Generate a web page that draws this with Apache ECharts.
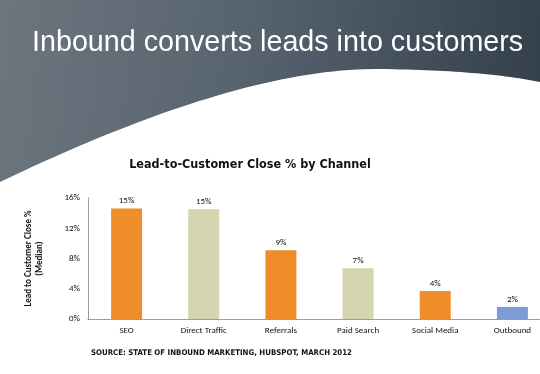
<!DOCTYPE html>
<html><head><meta charset="utf-8">
<script src="https://cdn.jsdelivr.net/npm/echarts@6/dist/echarts.min.js"></script>
<style>html,body{margin:0;padding:0;background:#fff}#c{width:540px;height:374px}</style>
</head><body><div id="c"></div>
<script>
const categories = ['SEO', 'Direct Traffic', 'Referrals', 'Paid Search', 'Social Media', 'Outbound'];
const values = [14.6, 14.5, 9.1, 6.7, 3.7, 1.6];
const yMin = 0, yMax = 16, yStep = 4;
const headline = 'Inbound converts leads into customers';
const chartTitle = 'Lead-to-Customer Close % by Channel';
const yName = 'Lead to Customer Close %\n(Median)';
const sourceNote = 'SOURCE: STATE OF INBOUND MARKETING, HUBSPOT, MARCH 2012';
const barPalette = ['#EF8D2B', '#D5D5B1', '#EF8D2B', '#D5D5B1', '#EF8D2B', '#7F9BD5'];

// decorative header band outline (cubic bezier segments)
function bez(p0, p1, p2, p3, n) {
  const pts = [];
  for (let i = 0; i <= n; i++) {
    const t = i / n, u = 1 - t;
    pts.push([
      u*u*u*p0[0] + 3*u*u*t*p1[0] + 3*u*t*t*p2[0] + t*t*t*p3[0],
      u*u*u*p0[1] + 3*u*u*t*p1[1] + 3*u*t*t*p2[1] + t*t*t*p3[1]
    ]);
  }
  return pts;
}
const bandPts = [[0, 0], [540, 0]]
  .concat(bez([540, 82], [500, 74], [450, 70], [380, 69], 30))
  .concat(bez([380, 69], [280, 68], [150, 110], [0, 182], 40));

const smallFont = 'Carlito, Lato, sans-serif';
const chart = echarts.init(document.getElementById('c'), null, {renderer: 'canvas'});
chart.setOption({
  animation: false,
  backgroundColor: '#fff',
  graphic: [
    {type: 'polygon', z: -10, silent: true,
     shape: {points: bandPts},
     style: {fill: {type: 'linear', x: 0, y: 0, x2: 1, y2: 0.35,
       colorStops: [{offset: 0, color: '#6c767f'}, {offset: 0.45, color: '#57636e'}, {offset: 1, color: '#34404b'}]}}},
    {type: 'text', left: 32, top: 29, z: 10, silent: true,
     style: {text: headline, fill: '#fff', font: '28.7px "Liberation Sans", Arial, sans-serif'}},
    {type: 'text', left: 91, top: 349, z: 10, silent: true,
     style: {text: sourceNote, fill: '#111', font: 'bold 7.8px "DejaVu Sans Condensed", sans-serif'}}
  ],
  title: {text: chartTitle, left: 245, textAlign: 'center', top: 153,
    textStyle: {fontSize: 12.5, fontWeight: 'bold', color: '#111', fontFamily: '"DejaVu Sans Condensed", sans-serif'}},
  grid: {left: 88, top: 198, width: 463, bottom: 55, containLabel: false, outerBoundsMode: 'none'},
  xAxis: {type: 'category', data: categories,
    axisLine: {lineStyle: {color: '#888', type: 'dotted', width: 1}},
    axisTick: {show: false},
    axisLabel: {color: '#111', fontSize: 9, fontFamily: smallFont, margin: 7}},
  yAxis: {type: 'value', min: yMin, max: yMax, interval: yStep,
    name: yName, nameLocation: 'middle', nameGap: 43, nameRotate: 90,
    nameTextStyle: {fontSize: 9, fontWeight: 'bold', color: '#111', fontFamily: smallFont, lineHeight: 11},
    axisLine: {show: true, lineStyle: {color: '#888', type: 'dotted', width: 1}},
    axisTick: {show: false}, splitLine: {show: false},
    axisLabel: {formatter: v => v + '%', color: '#111', fontSize: 9, fontFamily: smallFont, margin: 8}},
  series: [{type: 'bar', data: values, barWidth: 31,
    itemStyle: {color: p => barPalette[p.dataIndex]},
    label: {show: true, position: 'top', distance: 3, formatter: p => Math.round(p.value) + '%',
      color: '#111', fontSize: 9, fontFamily: smallFont}}]
});
</script></body></html>
